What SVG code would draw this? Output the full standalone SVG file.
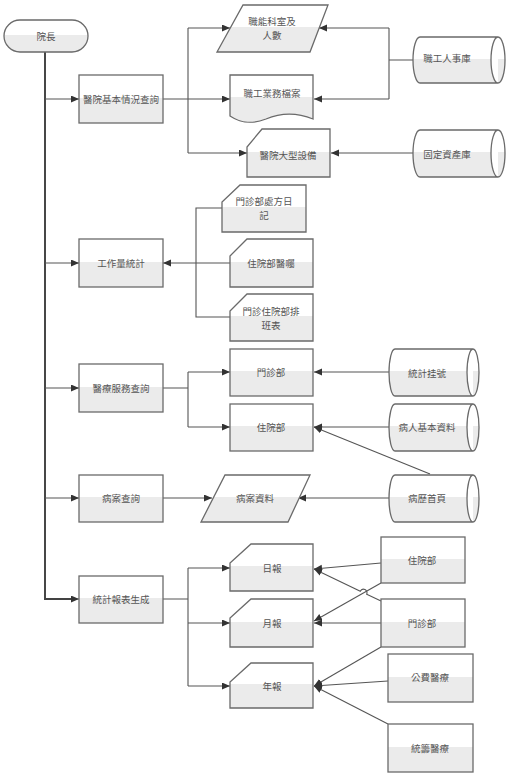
<svg xmlns="http://www.w3.org/2000/svg" width="509" height="777" viewBox="0 0 509 777">
<defs>
<linearGradient id="g" x1="0" y1="0" x2="0" y2="1">
<stop offset="0" stop-color="#ffffff"/><stop offset="0.47" stop-color="#ffffff"/><stop offset="0.47" stop-color="#ebebeb"/><stop offset="1" stop-color="#ebebeb"/>
</linearGradient>
<marker id="a" markerUnits="userSpaceOnUse" markerWidth="9" markerHeight="8" refX="8" refY="3.5" orient="auto"><path d="M0,0 L8,3.5 L0,7 z" fill="#333"/></marker>
<style>
.s{fill:url(#g);stroke:#6a6a6a;stroke-width:1.3}
.t{font-family:"Noto Sans CJK TC","Noto Sans CJK SC",sans-serif;font-size:9.5px;fill:#555;text-anchor:middle;dominant-baseline:central}
.c{fill:none;stroke:#555;stroke-width:1.1}
.ca{fill:none;stroke:#555;stroke-width:1.1;marker-end:url(#a)}
.tr{fill:none;stroke:#333;stroke-width:1.8}
</style>
</defs>
<rect width="509" height="777" fill="#fff"/>
<g id="connectors">
<path class="tr" d="M45,52 V599 H72"/>
<path class="ca" d="M45,599 H79"/>
<path class="ca" d="M45,99 H79"/>
<path class="ca" d="M45,263 H79"/>
<path class="ca" d="M45,388 H79"/>
<path class="ca" d="M45,498 H79"/>
<path class="c" d="M163,99 H188 M188,28 V153"/>
<path class="ca" d="M188,28 H230"/>
<path class="ca" d="M188,99 H230"/>
<path class="ca" d="M188,153 H247"/>
<path class="c" d="M413,60 H389 M389,28 V99"/>
<path class="ca" d="M389,28 H319"/>
<path class="ca" d="M389,99 H314"/>
<path class="ca" d="M413,153 H331"/>
<path class="c" d="M222,208 H196 V317 H230"/>
<path class="ca" d="M230,263 H163"/>
<path class="c" d="M163,388 H188 M188,372 V427"/>
<path class="ca" d="M188,372 H230"/>
<path class="ca" d="M188,427 H230"/>
<path class="ca" d="M389,372 H314"/>
<path class="ca" d="M389,427 H314"/>
<path class="ca" d="M430,474 L314,427"/>
<path class="ca" d="M389,498 H298"/>
<path class="ca" d="M163,498 H212"/>
<path class="c" d="M163,599 H188 M188,568 V686"/>
<path class="ca" d="M188,568 H230"/>
<path class="ca" d="M188,623 H230"/>
<path class="ca" d="M188,686 H230"/>
<path class="ca" d="M381,563 L314,569"/>
<path class="ca" d="M381,583 L314,621"/>
<path class="ca" d="M381,601 L366.7,594.3 A3.5,3.5 0 0 0 360.3,591.3 L314,569"/>
<path class="ca" d="M381,623 H314"/>
<path class="ca" d="M381,647 L314,686"/>
<path class="ca" d="M388,681 L314,686"/>
<path class="ca" d="M388,724 L314,686"/>
</g>
<g id="n-yuanzhang"><rect class="s" x="4" y="20" width="84" height="32" rx="16"/><text class="t" x="46" y="36">院長</text></g>
<g id="n-jiben"><rect class="s" x="79" y="75" width="84" height="48"/><text class="t" x="121" y="99">醫院基本情況查詢</text></g>
<g id="n-gongzuo"><rect class="s" x="79" y="239" width="84" height="48"/><text class="t" x="121" y="263">工作量統計</text></g>
<g id="n-yiliao"><rect class="s" x="79" y="364" width="84" height="48"/><text class="t" x="121" y="388">醫療服務查詢</text></g>
<g id="n-bingan"><rect class="s" x="79" y="475" width="84" height="47"/><text class="t" x="121" y="498">病案查詢</text></g>
<g id="n-tongji"><rect class="s" x="79" y="576" width="84" height="47"/><text class="t" x="121" y="599">統計報表生成</text></g>
<g id="n-zhineng"><polygon class="s" points="243,5 328,5 310,52 217,52"/><text class="t" x="272" y="21">職能科室及</text><text class="t" x="272" y="35">人數</text></g>
<g id="n-dangan"><path class="s" d="M230,75 H313 V119 C296,112 280,113 266,119 C253,124 242,124 230,116 Z"/><text class="t" x="272" y="93">職工業務檔案</text></g>
<g id="n-shebei"><path class="s" d="M262,129 H330 V177 H247 V147 Z"/><text class="t" x="288" y="155">醫院大型設備</text></g>
<g id="n-renshi"><path class="s" d="M420,37 H498 A7,23 0 0 1 498,83 H420 A7,23 0 0 1 420,37 Z M498,37 A7,23 0 0 0 498,83"/><text class="t" x="447" y="58">職工人事庫</text></g>
<g id="n-zichan"><path class="s" d="M420,130 H498 A7,23.5 0 0 1 498,177 H420 A7,23.5 0 0 1 420,130 Z M498,130 A7,23.5 0 0 0 498,177"/><text class="t" x="447" y="154">固定資產庫</text></g>
<g id="n-chufang"><path class="s" d="M240,185 H306 V232 H222 V202 Z"/><text class="t" x="264" y="201">門診部處方日</text><text class="t" x="264" y="215">記</text></g>
<g id="n-yizhu"><path class="s" d="M247,239 H313 V287 H230 V256 Z"/><text class="t" x="271" y="263">住院部醫囑</text></g>
<g id="n-paiban"><path class="s" d="M247,294 H313 V341 H230 V311 Z"/><text class="t" x="271" y="311">門診住院部排</text><text class="t" x="271" y="325">班表</text></g>
<g id="n-menzhen1"><rect class="s" x="230" y="349" width="83" height="47"/><text class="t" x="271" y="372">門診部</text></g>
<g id="n-zhuyuan1"><rect class="s" x="230" y="404" width="83" height="47"/><text class="t" x="271" y="427">住院部</text></g>
<g id="n-guahao"><path class="s" d="M395,349 H473 A6,23.5 0 0 1 473,396 H395 A6,23.5 0 0 1 395,349 Z M473,349 A6,23.5 0 0 0 473,396"/><text class="t" x="427" y="373">統計挂號</text></g>
<g id="n-bingren"><path class="s" d="M395,404 H473 A6,23.5 0 0 1 473,451 H395 A6,23.5 0 0 1 395,404 Z M473,404 A6,23.5 0 0 0 473,451"/><text class="t" x="427" y="427">病人基本資料</text></g>
<g id="n-shouye"><path class="s" d="M395,475 H473 A6,23.5 0 0 1 473,522 H395 A6,23.5 0 0 1 395,475 Z M473,475 A6,23.5 0 0 0 473,522"/><text class="t" x="427" y="498">病歷首頁</text></g>
<g id="n-ziliao"><polygon class="s" points="225,475 310,475 288,522 201,522"/><text class="t" x="255" y="498">病案資料</text></g>
<g id="n-ribao"><path class="s" d="M251,544 H313 V591 H230 V563 Z"/><text class="t" x="272" y="568">日報</text></g>
<g id="n-yuebao"><path class="s" d="M251,599 H313 V647 H230 V618 Z"/><text class="t" x="272" y="623">月報</text></g>
<g id="n-nianbao"><path class="s" d="M251,663 H313 V708 H230 V682 Z"/><text class="t" x="272" y="686">年報</text></g>
<g id="n-zhuyuan2"><rect class="s" x="381" y="537" width="84" height="46"/><text class="t" x="422" y="560">住院部</text></g>
<g id="n-menzhen2"><rect class="s" x="381" y="599" width="84" height="48"/><text class="t" x="422" y="623">門診部</text></g>
<g id="n-gongfei"><rect class="s" x="388" y="654" width="85" height="48"/><text class="t" x="430" y="677">公費醫療</text></g>
<g id="n-tongchou"><rect class="s" x="388" y="724" width="85" height="48"/><text class="t" x="430" y="748">統籌醫療</text></g>
</svg>
